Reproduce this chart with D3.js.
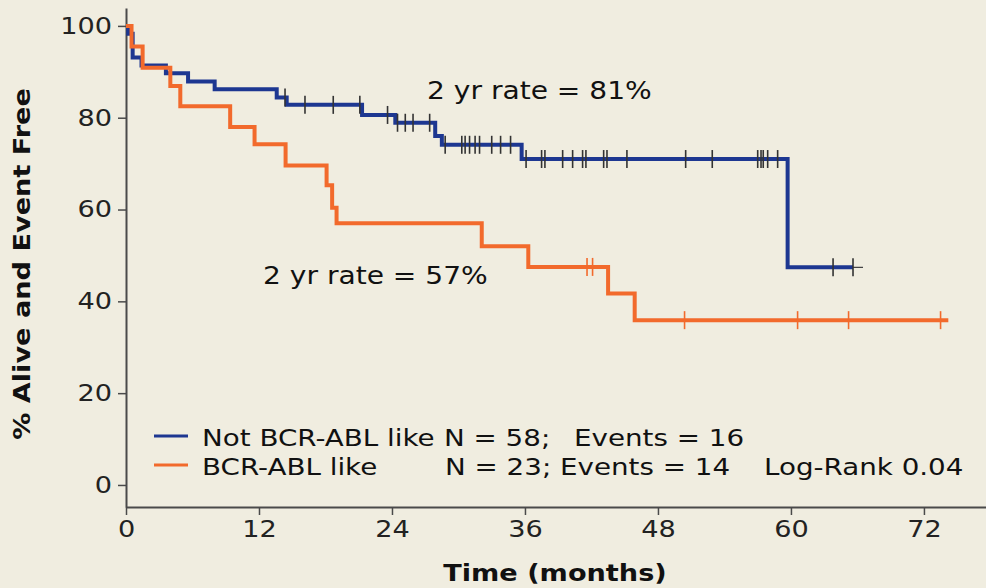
<!DOCTYPE html>
<html><head><meta charset="utf-8">
<script src="https://cdn.jsdelivr.net/npm/d3@7"></script>
<style>body{margin:0;background:#f0ede0;} svg{display:block;font-family:"DejaVu Sans",Verdana,sans-serif;}</style>
</head><body><svg id="c" width="986" height="588"></svg>
<script>
// ---- data ----
const xTicks = [0, 12, 24, 36, 48, 60, 72];
const yTicks = [0, 20, 40, 60, 80, 100];
const groups = ["Not BCR-ABL like", "BCR-ABL like"];
const groupN = ["N = 58;", "N = 23; Events = 14"];
const groupEvents = ["Events = 16", ""];
const logRank = "Log-Rank 0.04";
const rateLabels = ["2 yr rate = 81%", "2 yr rate = 57%"];

const notLikeTimes = [0, 0.2, 0.6, 1.4, 3.6, 5.6, 8.0, 13.6, 14.5, 21.3, 24.3, 27.9, 28.5, 35.7, 59.7];
const notLikeSurv  = [100, 98.3, 93.1, 91.4, 89.7, 87.9, 86.2, 84.4, 82.8, 80.6, 78.9, 76.0, 74.1, 71.0, 47.4];
const notLikeCensor = [14.35, 16.15, 18.7, 21.1, 23.6, 24.5, 25.2, 25.9, 27.4, 28.8, 30.3, 30.6, 31.0, 31.5, 31.9,
  33.0, 33.8, 34.7, 36.1, 37.5, 37.8, 39.4, 40.3, 41.2, 41.5, 43.1, 43.4, 45.2, 50.5, 52.9, 57.0, 57.3, 57.5,
  57.9, 58.8, 63.8, 65.6];
const notLikeEnd = 66.5;

const likeTimes = [0, 0.5, 1.5, 4.0, 4.9, 9.4, 11.6, 14.4, 18.1, 18.6, 19.0, 32.1, 36.3, 43.5, 45.9];
const likeSurv  = [100, 95.5, 90.9, 86.9, 82.5, 78.0, 74.2, 69.6, 65.3, 60.4, 57.0, 52.0, 47.5, 41.7, 35.9];
const likeCensor = [41.6, 42.1, 50.4, 60.6, 65.2, 73.5];
const likeEnd = 74.2;

// ---- layout ----
const svg = d3.select("#c");
const W = 986, H = 588;
const K = 1.18; // horizontal widening of the reference font
function stretch(sel, k = K) {
  sel.each(function () {
    const L = this.getComputedTextLength();
    this.setAttribute("textLength", L * k);
    this.setAttribute("lengthAdjust", "spacingAndGlyphs");
  });
  return sel;
}
svg.append("rect").attr("width", W).attr("height", H).attr("fill", "#f0ede0");

const x = d3.scaleLinear().domain([0, 77.6]).range([126, 986]);
const y = d3.scaleLinear().domain([-4.8, 103.9]).range([507, 8]);

const axisColor = "#4a4a4a";
const gx = svg.append("g").attr("transform", `translate(0,${y(-4.8)})`)
  .call(d3.axisBottom(x).tickValues(xTicks).tickSize(8).tickSizeOuter(0).tickPadding(6));
const gy = svg.append("g").attr("transform", `translate(${x(0)},0)`)
  .call(d3.axisLeft(y).tickValues(yTicks).tickSize(8).tickSizeOuter(0).tickPadding(6));
[gx, gy].forEach(g => {
  g.select(".domain").attr("stroke", axisColor).attr("stroke-width", 2);
  g.selectAll(".tick line").attr("stroke", axisColor).attr("stroke-width", 1.5);
  g.selectAll(".tick text").attr("fill", "#222").attr("font-size", 23)
    .attr("font-family", '"DejaVu Sans",Verdana,sans-serif');
  stretch(g.selectAll(".tick text"));
});

// titles
stretch(svg.append("text").attr("transform", "translate(22,264) rotate(-90)")
  .attr("text-anchor", "middle").attr("dy", "0.35em")
  .attr("font-weight", "bold").attr("font-size", 23).attr("fill", "#111")
  .text("% Alive and Event Free"));
stretch(svg.append("text").attr("x", 555).attr("y", 581).attr("text-anchor", "middle")
  .attr("font-weight", "bold").attr("font-size", 23).attr("fill", "#111")
  .text("Time (months)"));

// ---- curves ----
function stepData(times, surv, end) {
  const d = times.map((t, i) => ({t, s: surv[i]}));
  d.push({t: end, s: surv[surv.length - 1]});
  return d;
}
function survAt(times, surv, t) {
  const i = d3.bisectRight(times, t) - 1;
  return surv[Math.max(0, i)];
}
const line = d3.line().x(d => x(d.t)).y(d => y(d.s)).curve(d3.curveStepAfter);

const blue = "#1d3791", orange = "#f26a2c";

svg.append("path").datum(stepData(notLikeTimes, notLikeSurv, notLikeEnd))
  .attr("d", line).attr("fill", "none").attr("stroke", "#444").attr("stroke-width", 1.2);
svg.append("path").datum(stepData(notLikeTimes, notLikeSurv, notLikeCensor[notLikeCensor.length - 1]))
  .attr("d", line).attr("fill", "none").attr("stroke", blue).attr("stroke-width", 4);

svg.append("path").datum(stepData(likeTimes, likeSurv, likeEnd))
  .attr("d", line).attr("fill", "none").attr("stroke", orange).attr("stroke-width", 4);

// censor marks
svg.append("g").selectAll("line").data(notLikeCensor).join("line")
  .attr("x1", d => x(d)).attr("x2", d => x(d))
  .attr("y1", d => y(survAt(notLikeTimes, notLikeSurv, d)) - 9)
  .attr("y2", d => y(survAt(notLikeTimes, notLikeSurv, d)) + 9)
  .attr("stroke", "#333").attr("stroke-width", 1.6);
svg.append("g").selectAll("line").data(likeCensor).join("line")
  .attr("x1", d => x(d)).attr("x2", d => x(d))
  .attr("y1", d => y(survAt(likeTimes, likeSurv, d)) - 9)
  .attr("y2", d => y(survAt(likeTimes, likeSurv, d)) + 9)
  .attr("stroke", orange).attr("stroke-width", 1.6);

// rate annotations
stretch(svg.append("text").attr("x", 427).attr("y", 99).attr("font-size", 24).attr("fill", "#111").text(rateLabels[0]), 1.17);
stretch(svg.append("text").attr("x", 263).attr("y", 284).attr("font-size", 24).attr("fill", "#111").text(rateLabels[1]), 1.17);

// legend
const colors = [blue, orange];
const rowsY = [436, 465];
const ltext = (xx, yy, t) => stretch(svg.append("text").attr("x", xx).attr("y", yy)
  .attr("font-size", 23.5).attr("fill", "#111").text(t));
groups.forEach((g, i) => {
  svg.append("line").attr("x1", 154).attr("x2", 188).attr("y1", rowsY[i]).attr("y2", rowsY[i])
    .attr("stroke", colors[i]).attr("stroke-width", 3);
  const base = rowsY[i] + 10;
  ltext(202, base, g);
  ltext(i === 0 ? 444 : 445, base, groupN[i]);
  if (groupEvents[i]) ltext(574, base, groupEvents[i]);
});
ltext(764, rowsY[1] + 10, logRank);
</script></body></html>
